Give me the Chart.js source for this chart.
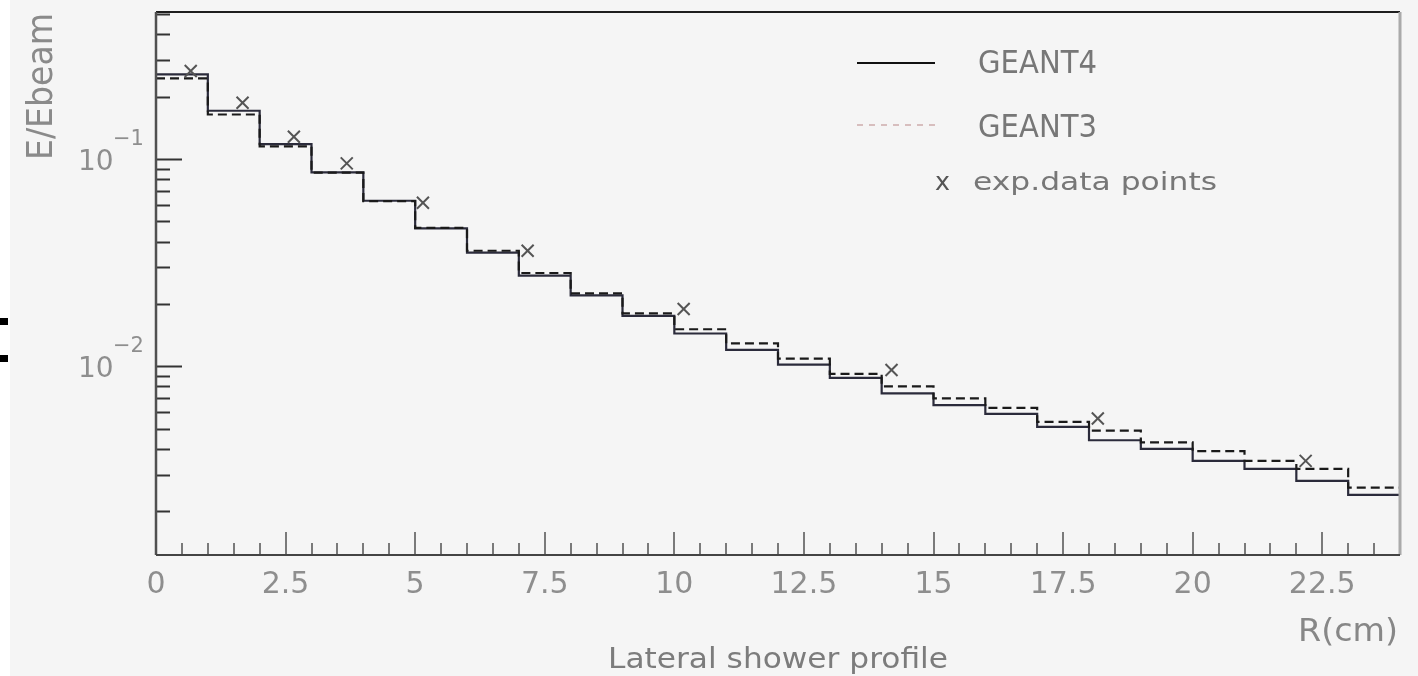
<!DOCTYPE html>
<html>
<head>
<meta charset="utf-8">
<title>Lateral shower profile</title>
<script src="https://cdn.jsdelivr.net/npm/chart.js@4.4.1/dist/chart.umd.min.js"></script>
<style>
  html, body { margin: 0; padding: 0; background: #f5f5f5; }
  #wrap { position: relative; width: 1418px; height: 676px; }
</style>
</head>
<body>
<div id="wrap"><canvas id="profile" width="1418" height="676"></canvas></div>
<script>
// bin edges in R (cm), one value per bin for each simulation
const binEdges = [0, 1, 2, 3, 4, 5, 6, 7, 8, 9, 10, 11, 12, 13, 14, 15, 16, 17, 18, 19, 20, 21, 22, 23, 24];
const geant4 = [0.256, 0.171, 0.118, 0.0862, 0.0629, 0.0463, 0.0354, 0.0274, 0.0220, 0.0175, 0.0144, 0.0120,
                0.0102, 0.0088, 0.0074, 0.0065, 0.0059, 0.0051, 0.0044, 0.0040, 0.0035, 0.0032, 0.0028, 0.0024];
const geant3 = [0.245, 0.164, 0.115, 0.0860, 0.0626, 0.0465, 0.0361, 0.0282, 0.0225, 0.0180, 0.0151, 0.0129,
                0.0109, 0.0092, 0.0080, 0.0070, 0.0063, 0.0054, 0.0049, 0.0043, 0.0039, 0.0035, 0.0032, 0.0026];

// measured points
const expR = [0.67, 1.67, 2.66, 3.68, 5.15, 7.17, 10.18, 14.19, 18.17, 22.18];
const expE = [0.266, 0.187, 0.128, 0.0953, 0.0615, 0.0361, 0.0189, 0.0096, 0.0056, 0.0035];

// axis labels
const xTicks = [0, 2.5, 5, 7.5, 10, 12.5, 15, 17.5, 20, 22.5];
const yDecades = [-1, -2];

function histPoints(values) {
  return binEdges.map((x, i) => ({ x: x, y: values[Math.min(i, values.length - 1)] }));
}

const FONT = "'DejaVu Sans'";

// draws text, optionally squeezed/stretched to a given width
function label(c, str, x, y, size, width, align, color) {
  c.save();
  c.font = size + "px " + FONT;
  c.fillStyle = color;
  c.textAlign = align || "left";
  c.textBaseline = "alphabetic";
  const w = c.measureText(str).width;
  c.translate(x, y);
  if (width) c.scale(width / w, 1);
  c.fillText(str, 0, 0);
  c.restore();
}

const paperPlugin = {
  id: "paper",
  beforeDraw(chart) {
    const c = chart.ctx;
    c.save();
    c.fillStyle = "#f5f5f5";
    c.fillRect(0, 0, chart.width, chart.height);
    c.fillStyle = "#ffffff";
    c.fillRect(0, 0, 10, chart.height);
    // scrap of a neighbouring glyph at the left edge of the scan
    c.fillStyle = "#000";
    c.fillRect(0, 318, 8, 7);
    c.fillRect(0, 355, 8, 7);
    c.restore();
  },
  afterDraw(chart) {
    const c = chart.ctx;
    const a = chart.chartArea;
    const xs = chart.scales.x, ys = chart.scales.y;
    c.save();

    // y ticks (inward, log decades)
    c.strokeStyle = "#333";
    c.lineWidth = 2;
    for (let d = -3; d <= 0; d++) {
      for (let m = 1; m <= 9; m++) {
        const v = m * Math.pow(10, d);
        if (v <= ys.min || v >= ys.max) continue;
        const py = Math.round(ys.getPixelForValue(v)) + 0.5;
        const len = m === 1 ? 26 : 14;
        c.beginPath();
        c.moveTo(a.left, py);
        c.lineTo(a.left + len, py);
        c.stroke();
      }
    }

    // x ticks (inward, every 0.5)
    c.strokeStyle = "#7a7a7a";
    for (let k = 1; k < 48; k++) {
      const v = k * 0.5;
      const px = Math.round(xs.getPixelForValue(v));
      const len = (v % 2.5 === 0) ? 23 : 12;
      c.beginPath();
      c.moveTo(px, a.bottom);
      c.lineTo(px, a.bottom - len);
      c.stroke();
    }

    // frame
    c.lineWidth = 2;
    c.strokeStyle = "#1e1e1e";
    c.beginPath(); c.moveTo(a.left, a.top); c.lineTo(a.right, a.top); c.stroke();
    c.strokeStyle = "#aaaaaa";
    c.lineWidth = 3;
    c.beginPath(); c.moveTo(a.right, a.top); c.lineTo(a.right, a.bottom); c.stroke();
    c.strokeStyle = "#505050";
    c.lineWidth = 2.5;
    c.beginPath(); c.moveTo(a.left, a.top); c.lineTo(a.left, a.bottom); c.stroke();
    c.strokeStyle = "#444";
    c.lineWidth = 2;
    c.beginPath(); c.moveTo(a.left, a.bottom); c.lineTo(a.right, a.bottom); c.stroke();

    // tick labels
    xTicks.forEach(v => {
      label(c, String(v), xs.getPixelForValue(v), a.bottom + 38, 30, 0, "center", "#8e8e8e");
    });
    yDecades.forEach(d => {
      const py = ys.getPixelForValue(Math.pow(10, d));
      label(c, "10", 78, py + 11, 28, 0, "left", "#8e8e8e");
      label(c, "\u2212" + (-d), 113, py - 14, 21, 0, "left", "#8e8e8e");
    });

    // axis titles
    c.save();
    c.translate(52, 160);
    c.rotate(-Math.PI / 2);
    label(c, "E/Ebeam", 0, 0, 35, 147, "left", "#8a8a8a");
    c.restore();
    label(c, "R(cm)", a.right - 2, 641, 32, 100, "right", "#878787");
    label(c, "Lateral shower profile", (a.left + a.right) / 2, 668, 28, 340, "center", "#7c7c7c");

    // legend
    c.lineWidth = 2;
    c.strokeStyle = "#111";
    c.beginPath(); c.moveTo(857, 63); c.lineTo(935, 63); c.stroke();
    c.lineWidth = 1.2;
    c.strokeStyle = "#c49a9a";
    c.setLineDash([6, 6]);
    c.beginPath(); c.moveTo(857, 125); c.lineTo(935, 125); c.stroke();
    c.setLineDash([]);
    label(c, "GEANT4", 978, 73, 32, 119, "left", "#777");
    label(c, "GEANT3", 978, 137, 32, 119, "left", "#777");
    label(c, "x", 935, 190, 24, 15, "left", "#555");
    label(c, "exp.data points", 973, 190, 25, 244, "left", "#777");

    c.restore();
  }
};

new Chart(document.getElementById("profile"), {
  type: "line",
  data: {
    datasets: [
      {
        label: "exp.data points",
        type: "scatter",
        data: expR.map((x, i) => ({ x: x, y: expE[i] })),
        showLine: false,
        pointStyle: "crossRot",
        pointRadius: 8.5,
        pointBorderWidth: 2,
        pointBorderColor: "#555",
        pointBackgroundColor: "#555",
        order: 0
      },
      {
        label: "GEANT3",
        data: histPoints(geant3),
        stepped: "before",
        borderColor: "#1a1a1a",
        borderWidth: 2.2,
        borderDash: [9, 5],
        pointRadius: 0,
        fill: false,
        order: 1
      },
      {
        label: "GEANT4",
        data: histPoints(geant4),
        stepped: "before",
        borderColor: "#2b2b3b",
        borderWidth: 2.2,
        pointRadius: 0,
        fill: false,
        order: 2
      }
    ]
  },
  options: {
    responsive: false,
    animation: false,
    layout: { padding: { left: 156, top: 12, right: 18, bottom: 121 } },
    plugins: { legend: { display: false }, tooltip: { enabled: false } },
    scales: {
      x: { type: "linear", min: 0, max: 24, display: false },
      y: { type: "logarithmic", min: 0.00123, max: 0.512, display: false }
    }
  },
  plugins: [paperPlugin]
});
</script>
</body>
</html>
